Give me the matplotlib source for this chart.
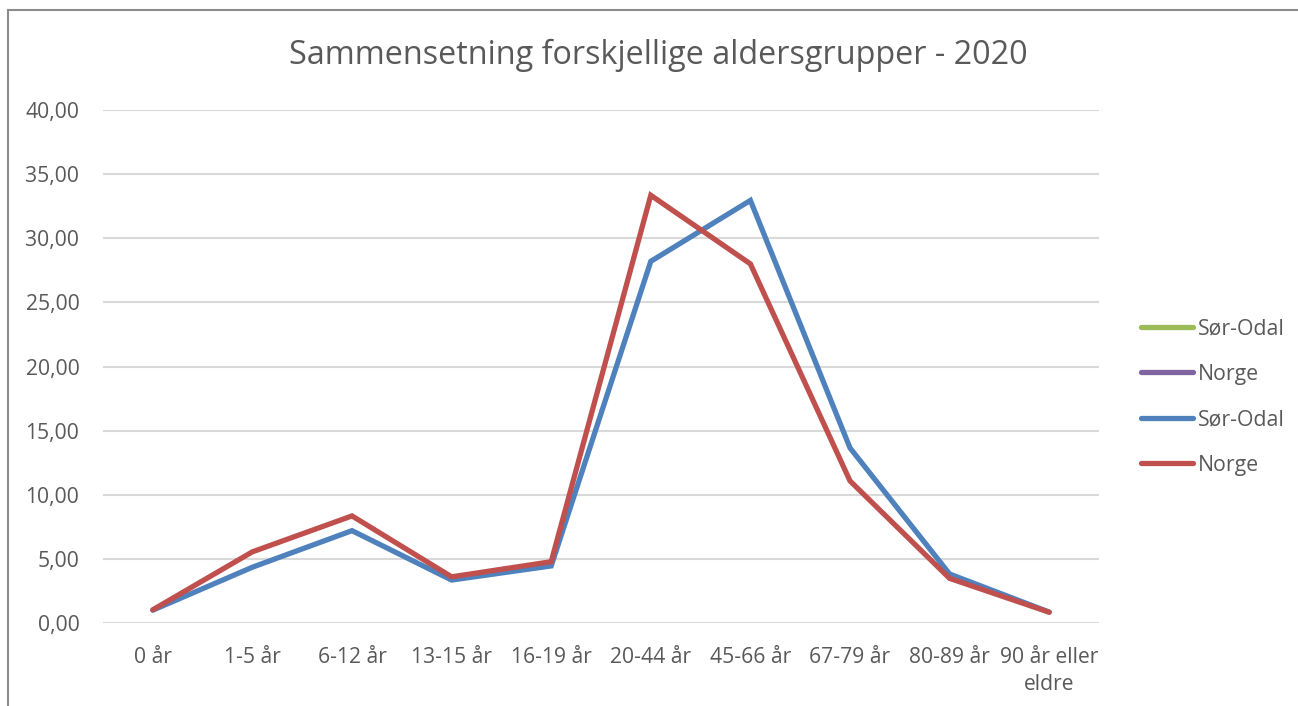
import matplotlib.pyplot as plt
from matplotlib.lines import Line2D
from matplotlib.ticker import FuncFormatter

# data
categories = ["0 år", "1-5 år", "6-12 år", "13-15 år", "16-19 år",
              "20-44 år", "45-66 år", "67-79 år", "80-89 år", "90 år eller\neldre"]
sor_odal = [1.00, 4.35, 7.20, 3.35, 4.45, 28.20, 32.95, 13.65, 3.82, 0.85]
norge = [1.03, 5.55, 8.35, 3.60, 4.78, 33.35, 28.00, 11.08, 3.48, 0.84]
legend_labels = ["Sør-Odal", "Norge", "Sør-Odal", "Norge"]

text_col = "#595959"
plt.rcParams['font.family'] = ['Open Sans', 'DejaVu Sans']

fig = plt.figure(figsize=(12.98, 7.06), dpi=100)
ax = fig.add_axes([103/1298, 83/706, 996/1298, 513/706])

x = list(range(len(categories)))
ax.plot(x, sor_odal, color="#4f81bd", lw=3.8, solid_capstyle="round", solid_joinstyle="miter", zorder=3)
ax.plot(x, norge, color="#c0504d", lw=3.8, solid_capstyle="round", solid_joinstyle="miter", zorder=4)

ax.set_xlim(-0.5, len(categories) - 0.5)
ax.set_ylim(0, 40)
ax.set_yticks(range(0, 41, 5))
ax.yaxis.set_major_formatter(FuncFormatter(lambda v, p: "{:.2f}".format(v).replace(".", ",")))
ax.set_xticks(x)
ax.set_xticklabels(categories)
for lbl in ax.get_xticklabels():
  lbl.set_linespacing(1.42)
ax.grid(axis="y", color="#d9d9d9", lw=1.5)
ax.set_axisbelow(True)
for s in ax.spines.values():
  s.set_visible(False)
ax.tick_params(axis="both", length=0, colors=text_col, labelsize=15.2)
ax.tick_params(axis="y", pad=17)
ax.tick_params(axis="x", pad=17)

# title
fig.text(0.507, 1 - 55/706, "Sammensetning forskjellige aldersgrupper - 2020",
         ha="center", va="center", fontsize=23.3, color=text_col)

# legend
handles = [Line2D([], [], color=c, lw=3.8, solid_capstyle="round")
           for c in ["#9bbb59", "#8064a2", "#4f81bd", "#c0504d"]]
leg = fig.legend(handles, legend_labels, loc="center left", bbox_to_anchor=(1132/1298, 1 - 397/706),
                 frameon=False, fontsize=15.3, handlelength=2.45, handletextpad=0.25,
                 labelspacing=1.15, borderaxespad=0)
for t in leg.get_texts():
  t.set_color(text_col)

# chart border (top and left visible)
fig.add_artist(Line2D([8/1298, 8/1298], [0, 1 - 10/706], color="#8c8c8c", lw=1.5))
fig.add_artist(Line2D([8/1298, 1], [1 - 10/706, 1 - 10/706], color="#8c8c8c", lw=1.5))

fig.savefig("out.png", dpi=100)
